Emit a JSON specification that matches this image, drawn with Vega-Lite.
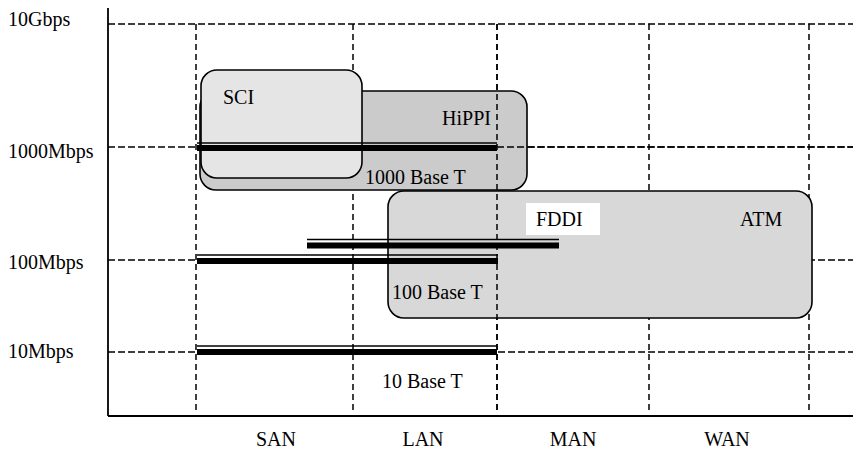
{
  "$schema": "https://vega.github.io/schema/vega-lite/v6.json",
  "width": 745,
  "height": 416,
  "autosize": "none",
  "padding": {"left": 108, "top": 0, "right": 0, "bottom": 34},
  "background": "white",
  "config": {"view": {"stroke": null}},
  "datasets": {
    "hgrid": [
      {"label": "10Gbps", "x": 0, "x2": 745, "y": 392},
      {"label": "1000Mbps", "x": 0, "x2": 745, "y": 269},
      {"label": "100Mbps", "x": 0, "x2": 745, "y": 156},
      {"label": "10Mbps", "x": 0, "x2": 745, "y": 64}
    ],
    "vgrid": [
      {"x": 88, "y": 392, "y2": 6},
      {"x": 245, "y": 392, "y2": 6},
      {"x": 389, "y": 392, "y2": 6},
      {"x": 541, "y": 392, "y2": 6},
      {"x": 701, "y": 392, "y2": 6}
    ],
    "hgridTop": [{"x": 389, "x2": 745, "y": 269}],
    "vgridTop": [{"x": 389, "y": 392, "y2": 6}],
    "boxes": [
      {"name": "HiPPI", "x": 92, "x2": 419, "y": 325, "y2": 226},
      {"name": "SCI", "x": 93, "x2": 254, "y": 346, "y2": 238},
      {"name": "ATM", "x": 280, "x2": 704, "y": 225, "y2": 98}
    ],
    "fddiBox": [{"x": 418, "x2": 492, "y": 213, "y2": 181}],
    "thin": [
      {"name": "1000 Base T", "x": 89, "x2": 389, "y": 273},
      {"name": "FDDI", "x": 199, "x2": 451, "y": 176.5},
      {"name": "100 Base T", "x": 89, "x2": 390, "y": 161},
      {"name": "10 Base T", "x": 89, "x2": 389, "y": 70}
    ],
    "thick": [
      {"name": "1000 Base T", "x": 89, "x2": 389, "y": 268},
      {"name": "FDDI", "x": 199, "x2": 451, "y": 170.5},
      {"name": "100 Base T", "x": 89, "x2": 390, "y": 155},
      {"name": "10 Base T", "x": 89, "x2": 389, "y": 64}
    ],
    "axes": [
      {"x": 0, "x2": 745, "y": 0, "y2": 0},
      {"x": 0, "x2": 0, "y": 408, "y2": 0}
    ],
    "labelsLeft": [
      {"text": "SCI", "x": 115, "y": 318},
      {"text": "1000 Base T", "x": 257, "y": 238},
      {"text": "FDDI", "x": 428, "y": 196},
      {"text": "ATM", "x": 632, "y": 196},
      {"text": "100 Base T", "x": 284, "y": 123},
      {"text": "10 Base T", "x": 274, "y": 34},
      {"text": "10Gbps", "x": -100, "y": 396},
      {"text": "1000Mbps", "x": -100, "y": 264},
      {"text": "100Mbps", "x": -100, "y": 153},
      {"text": "10Mbps", "x": -100, "y": 64}
    ],
    "labelsRight": [
      {"text": "HiPPI", "x": 383, "y": 297}
    ],
    "labelsCenter": [
      {"text": "SAN", "x": 168, "y": -24},
      {"text": "LAN", "x": 315, "y": -24},
      {"text": "MAN", "x": 465, "y": -24},
      {"text": "WAN", "x": 619, "y": -24}
    ]
  },
  "encoding": {
    "x": {"field": "x", "type": "quantitative", "scale": {"domain": [0, 745], "nice": false, "zero": false}, "axis": null},
    "y": {"field": "y", "type": "quantitative", "scale": {"domain": [0, 416], "nice": false, "zero": false}, "axis": null}
  },
  "layer": [
    {
      "data": {"name": "hgrid"},
      "mark": {"type": "rule", "color": "black", "strokeWidth": 1.5, "strokeDash": [7, 3]},
      "encoding": {"x2": {"field": "x2"}}
    },
    {
      "data": {"name": "vgrid"},
      "mark": {"type": "rule", "color": "black", "strokeWidth": 1.5, "strokeDash": [6, 4]},
      "encoding": {"y2": {"field": "y2"}}
    },
    {
      "data": {"name": "boxes"},
      "mark": {"type": "rect", "cornerRadius": 16, "stroke": "black", "strokeWidth": 1.6},
      "encoding": {
        "x2": {"field": "x2"},
        "y2": {"field": "y2"},
        "fill": {"field": "name", "type": "nominal", "scale": {"domain": ["HiPPI", "SCI", "ATM"], "range": ["#cbcbcb", "#e5e5e5", "#d8d8d8"]}, "legend": null},
        "order": {"value": 0}
      }
    },
    {
      "data": {"name": "hgridTop"},
      "mark": {"type": "rule", "color": "black", "strokeWidth": 1.5, "strokeDash": [7, 3]},
      "encoding": {"x2": {"field": "x2"}}
    },
    {
      "data": {"name": "vgridTop"},
      "mark": {"type": "rule", "color": "black", "strokeWidth": 1.5, "strokeDash": [6, 4]},
      "encoding": {"y2": {"field": "y2"}}
    },
    {
      "data": {"name": "thin"},
      "mark": {"type": "rule", "color": "black", "strokeWidth": 1.7},
      "encoding": {"x2": {"field": "x2"}}
    },
    {
      "data": {"name": "thick"},
      "mark": {"type": "rule", "color": "black", "strokeWidth": 6},
      "encoding": {"x2": {"field": "x2"}}
    },
    {
      "data": {"name": "fddiBox"},
      "mark": {"type": "rect", "fill": "white"},
      "encoding": {"x2": {"field": "x2"}, "y2": {"field": "y2"}}
    },
    {
      "data": {"name": "axes"},
      "mark": {"type": "rule", "color": "black", "strokeWidth": 1.8},
      "encoding": {"x2": {"field": "x2"}, "y2": {"field": "y2"}}
    },
    {
      "data": {"name": "labelsLeft"},
      "mark": {"type": "text", "align": "left", "baseline": "middle", "font": "Liberation Serif", "fontSize": 20, "color": "black"},
      "encoding": {"text": {"field": "text"}}
    },
    {
      "data": {"name": "labelsRight"},
      "mark": {"type": "text", "align": "right", "baseline": "middle", "font": "Liberation Serif", "fontSize": 20, "color": "black"},
      "encoding": {"text": {"field": "text"}}
    },
    {
      "data": {"name": "labelsCenter"},
      "mark": {"type": "text", "align": "center", "baseline": "middle", "font": "Liberation Serif", "fontSize": 20, "color": "black"},
      "encoding": {"text": {"field": "text"}}
    }
  ]
}
